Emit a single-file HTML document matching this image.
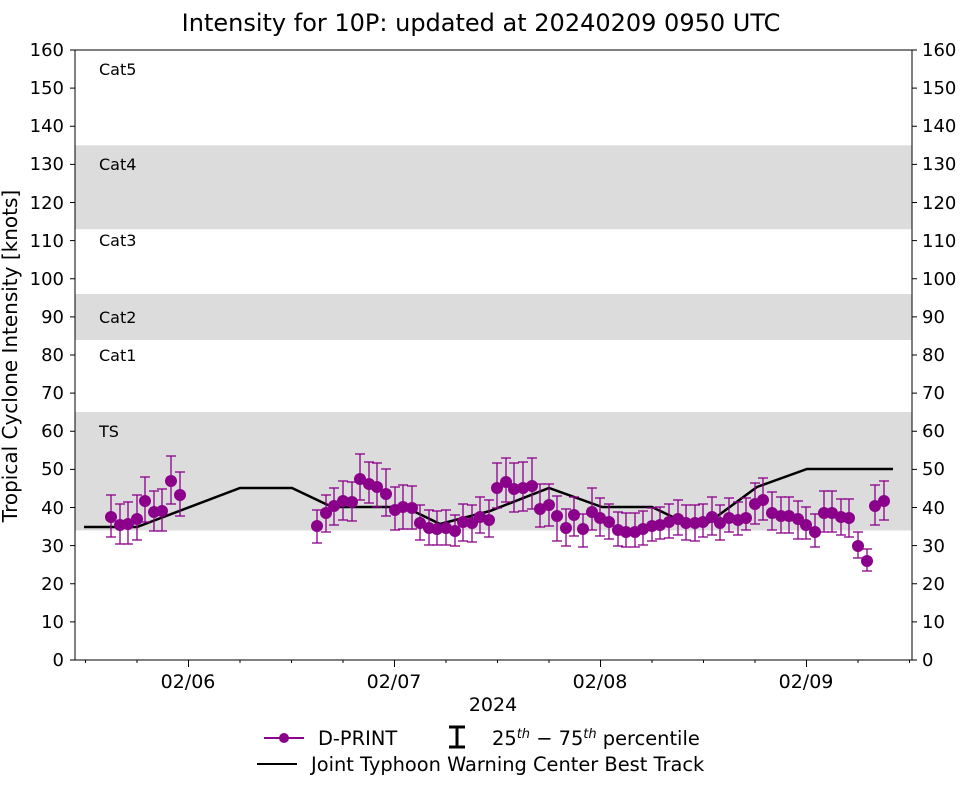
<!DOCTYPE html>
<html><head><meta charset="utf-8"><style>
body{margin:0;background:#fff}
svg{display:block;font-family:"DejaVu Sans","Liberation Sans",sans-serif}
</style></head><body>
<svg id="s" width="962" height="785" viewBox="0 0 962 785">
<rect x="75" y="412" width="837" height="118.5" fill="#dcdcdc"/>
<rect x="75" y="294" width="837" height="46" fill="#dcdcdc"/>
<rect x="75" y="145.3" width="837" height="83.9" fill="#dcdcdc"/>
<g font-size="16" fill="#000">
<text x="99" y="75">Cat5</text><text x="99" y="170">Cat4</text><text x="99" y="246">Cat3</text>
<text x="99" y="323">Cat2</text><text x="99" y="361">Cat1</text><text x="99" y="437">TS</text>
</g>
<g id="data"></g>
<rect x="75" y="50" width="837" height="610" fill="none" stroke="#000" stroke-width="1"/>
<g id="ticks" stroke="#000"></g>
<g font-size="18" text-anchor="end">
<text x="64" y="666">0</text><text x="64" y="628">10</text><text x="64" y="590">20</text><text x="64" y="552">30</text>
<text x="64" y="514">40</text><text x="64" y="475">50</text><text x="64" y="437">60</text><text x="64" y="399">70</text>
<text x="64" y="361">80</text><text x="64" y="323">90</text><text x="64" y="285">100</text><text x="64" y="247">110</text>
<text x="64" y="209">120</text><text x="64" y="170">130</text><text x="64" y="132">140</text><text x="64" y="94">150</text>
<text x="64" y="56">160</text>
</g>
<g font-size="18" text-anchor="start">
<text x="922" y="666">0</text><text x="922" y="628">10</text><text x="922" y="590">20</text><text x="922" y="552">30</text>
<text x="922" y="514">40</text><text x="922" y="475">50</text><text x="922" y="437">60</text><text x="922" y="399">70</text>
<text x="922" y="361">80</text><text x="922" y="323">90</text><text x="922" y="285">100</text><text x="922" y="247">110</text>
<text x="922" y="209">120</text><text x="922" y="170">130</text><text x="922" y="132">140</text><text x="922" y="94">150</text>
<text x="922" y="56">160</text>
</g>
<g font-size="19" text-anchor="middle">
<text x="188" y="688">02/06</text><text x="394" y="688">02/07</text><text x="600" y="688">02/08</text><text x="806" y="688">02/09</text>
<text x="493" y="711">2024</text>
</g>
<text x="481" y="31" font-size="24" text-anchor="middle">Intensity for 10P: updated at 20240209 0950 UTC</text>
<text transform="translate(17,356) rotate(-90)" font-size="20" text-anchor="middle">Tropical Cyclone Intensity [knots]</text>
<line x1="264" y1="738" x2="304" y2="738" stroke="#8b008b" stroke-width="2"/>
<circle cx="284" cy="738" r="5" fill="#8b008b"/>
<text x="318" y="745" font-size="19.4">D-PRINT</text>
<path d="M449 727h16M457 727v20M449 747h16" stroke="#000" stroke-width="3" fill="none"/>
<text x="492" y="745" font-size="19.4">25<tspan font-size="13" dy="-7" font-style="italic">th</tspan><tspan dy="7"> − 75</tspan><tspan font-size="13" dy="-7" font-style="italic">th</tspan><tspan dy="7"> percentile</tspan></text>
<line x1="257" y1="764" x2="297" y2="764" stroke="#000" stroke-width="2"/>
<text x="311" y="771" font-size="19.4">Joint Typhoon Warning Center Best Track</text>
</svg>
<script>
var ns="http://www.w3.org/2000/svg";
function el(p,t,a){var e=document.createElementNS(ns,t);for(var k in a)e.setAttribute(k,a[k]);p.appendChild(e);return e;}
var tk=document.getElementById("ticks");
[660,621.9,583.75,545.6,507.5,469.4,431.25,393.1,355,316.9,278.75,240.6,202.5,164.4,126.25,88.1,50].forEach(function(y){
el(tk,"line",{x1:70,y1:y,x2:75,y2:y});el(tk,"line",{x1:912,y1:y,x2:917,y2:y});});
for(var x=85.5;x<912;x+=51.5){var maj=[188,394,600,806].some(function(m){return Math.abs(m-x)<2});
el(tk,"line",{x1:x,y1:660,x2:x,y2:maj?667:663});}
var d=document.getElementById("data");
el(d,"polyline",{points:"84,527 137,527 240,488 292,488 332,507 405,507 440,524 490,511 549,488 602,507 652,507 677,519 708,523 757,487 807,469 893,469",fill:"none",stroke:"#000","stroke-width":2.5});
var P=[[111,517,495,537],[120,525,504,544],[128,524,502,544],[137,519,495,540],[145,501,477,522],[154,512,491,531],[162,511,489,531],[171,481,456,504],[180,495,472,516],
[317,526,510,543],[326,513,495,532],[334,506,488,525],[343,501,481,520],[352,502,482,521],[360,479,454,500],[369,484,462,503],[377,487,463,507],[386,494,469,516],[395,510,487,530],[403,507,485,529],[412,508,486,529],[420,523,505,540],[429,528,510,545],[437,529,511,545],[446,528,510,545],[455,531,515,546],[463,522,504,541],[472,523,505,542],[480,517,497,533],[489,520,500,537],[497,488,463,508],[506,482,458,502],[514,489,463,512],[523,488,462,511],[532,486,458,509],[540,509,484,527],[549,505,484,526],[557,516,496,541],[566,528,509,546],[574,515,497,536],[583,529,514,547],[592,512,488,530],[600,518,498,536],[609,522,504,539],[618,530,512,546],[626,532,513,547],[635,532,513,547],[643,529,511,545],[652,526,508,541],[660,525,507,539],[669,522,504,538],[678,519,500,535],[686,523,505,540],[695,523,505,541],[703,522,504,537],[712,517,497,535],[720,523,505,540],[729,518,498,532],[738,520,502,535],[746,518,498,530],[755,504,483,524],[763,500,478,520],[772,513,492,530],[781,516,497,533],[789,516,497,533],[798,519,501,539],[806,525,507,539],[815,532,514,547],[824,513,491,532],[832,513,491,532],[841,517,499,535],[849,518,499,537],[858,546,532,558],[867,561,549,571],[875,506,485,525],[884,501,481,520]];
P.forEach(function(p){var g=el(d,"g",{stroke:"#8b008b","stroke-width":1.3});
el(g,"line",{x1:p[0],y1:p[2],x2:p[0],y2:p[3]});el(g,"line",{x1:p[0]-5,y1:p[2],x2:p[0]+5,y2:p[2]});el(g,"line",{x1:p[0]-5,y1:p[3],x2:p[0]+5,y2:p[3]});
el(d,"circle",{cx:p[0],cy:p[1],r:6,fill:"#8b008b"});});
</script>
</body></html>
